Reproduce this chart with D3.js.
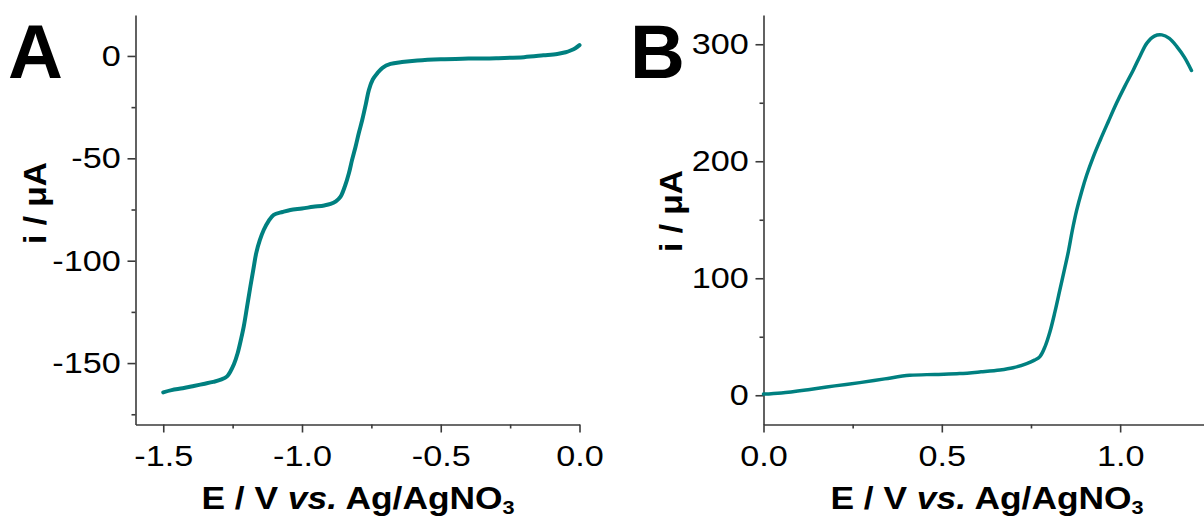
<!DOCTYPE html>
<html>
<head>
<meta charset="utf-8">
<script src="https://cdn.jsdelivr.net/npm/d3@7"></script>
<style>
  html, body { margin: 0; padding: 0; background: #fff; }
  svg { display: block; }
  text { font-family: "Liberation Sans", Arial, sans-serif; fill: #000; }
</style>
</head>
<body>
<svg id="chart" width="1204" height="517"></svg>
<script>
// ---------- Data ----------
// Panel A: potential (V) and current (µA)
const aPotential = [-1.50,-1.47,-1.43,-1.39,-1.355,-1.32,-1.29,-1.27,-1.258,-1.245,-1.232,-1.22,-1.21,-1.198,-1.186,-1.175,-1.165,-1.152,-1.138,-1.12,-1.102,-1.07,-1.042,-1.0,-0.96,-0.92,-0.897,-0.878,-0.861,-0.845,-0.831,-0.82,-0.807,-0.795,-0.783,-0.77,-0.759,-0.745,-0.729,-0.71,-0.681,-0.64,-0.584,-0.5,-0.4,-0.3,-0.2,-0.13,-0.08,-0.05,-0.03,-0.015,0.0];
const aCurrent   = [-164.3,-163.2,-162.3,-161.2,-160.2,-159.2,-158.0,-156.5,-154.1,-150.5,-145.2,-138.5,-132.2,-122.5,-112.6,-104,-96.3,-90,-85,-80.5,-77.6,-76.2,-75.2,-74.5,-73.7,-73.0,-72.3,-71,-68.7,-63.5,-57.3,-51,-44.3,-37.5,-31.3,-23.5,-16.6,-11.5,-8.5,-5.8,-3.9,-3.0,-2.2,-1.6,-1.3,-1.1,-0.6,0.3,1.0,1.8,2.8,3.8,5.3];

// Panel B
const bPotential = [0.0,0.05,0.13,0.2,0.27,0.34,0.41,0.48,0.55,0.61,0.663,0.70,0.738,0.76,0.775,0.79,0.803,0.817,0.831,0.845,0.855,0.866,0.878,0.892,0.906,0.925,0.944,0.967,0.99,1.013,1.037,1.056,1.075,1.096,1.117,1.138,1.159,1.18,1.2];
const bCurrent   = [1,2,5,8,10.8,14,17,17.8,18.5,20,21.6,23.5,27,30,33,42,54,71,90,109,123,141,158,174,188,204,218,234,249.7,264,278,290,301,307,308,305,298,289,277.6];

// Ticks
const aXTicks = [-1.5,-1.0,-0.5,0.0];
const aXMinor = [-1.25,-0.75,-0.25];
const aYTicks = [0,-50,-100,-150];
const aYMinor = [-25,-75,-125,-175];
const bXTicks = [0.0,0.5,1.0];
const bXMinor = [0.25,0.75,1.25];
const bYTicks = [0,100,200,300];
const bYMinor = [50,150,250];

const panelLabels = ["A","B"];
const yTitle = "i / μA";

// ---------- Drawing ----------
const svg = d3.select("#chart");
const lineColor = "#008080";
const axisColor = "#3a3a3a";
const stretch = 1.14;

function fmtTick(d, digits) {
  return d.toFixed(digits).replace("\u2212", "-");
}

function drawPanel(opt) {
  const x = d3.scaleLinear().domain(opt.xDomain).range(opt.xRange);
  const y = d3.scaleLinear().domain(opt.yDomain).range(opt.yRange);
  const g = svg.append("g");
  const x0 = opt.xRange[0], yB = opt.yRange[0];

  // y axis
  g.append("g").attr("transform", `translate(${x0},0)`)
    .call(d3.axisLeft(y).tickValues(opt.yTicks).tickSize(8).tickSizeOuter(0).tickPadding(5)
      .tickFormat(d => String(d)));
  g.append("g").attr("transform", `translate(${x0},0)`)
    .call(d3.axisLeft(y).tickValues(opt.yMinor).tickSize(4).tickSizeOuter(0).tickFormat(""))
    .select(".domain").remove();

  // x axis
  g.append("g").attr("transform", `translate(0,${yB})`)
    .call(d3.axisBottom(x).tickValues(opt.xTicks).tickSize(8).tickSizeOuter(0).tickPadding(12)
      .tickFormat(d => fmtTick(d, 1)));
  g.append("g").attr("transform", `translate(0,${yB})`)
    .call(d3.axisBottom(x).tickValues(opt.xMinor).tickSize(4).tickSizeOuter(0).tickFormat(""))
    .select(".domain").remove();

  g.selectAll(".domain, .tick line").attr("stroke", axisColor).attr("stroke-width", 1.6);
  g.selectAll(".tick text").attr("font-size", 30)
    .attr("font-family", "Liberation Sans, Arial, sans-serif").attr("fill", "#000")
    .attr("transform", `scale(${stretch},1)`);

  // curve
  const data = opt.xs.map((v, i) => [v, opt.ys[i]]);
  g.append("path").datum(data)
    .attr("fill", "none").attr("stroke", lineColor).attr("stroke-width", opt.lw)
    .attr("stroke-linejoin", "round").attr("stroke-linecap", "round")
    .attr("d", d3.line().x(d => x(d[0])).y(d => y(d[1])).curve(d3.curveCatmullRom.alpha(0.5)));

  // panel label
  svg.append("text").attr("x", opt.labelX).attr("y", 78)
    .attr("font-size", 76).attr("font-weight", "bold").text(opt.label);

  // y title
  svg.append("text")
    .attr("transform", `translate(${opt.yTitleX},${opt.yTitleY}) rotate(-90) scale(1.08,1)`)
    .attr("text-anchor", "middle").attr("font-size", 31).attr("font-weight", "bold")
    .text(yTitle);

  // x title
  const t = svg.append("text")
    .attr("transform", `translate(${opt.xTitleX},509) scale(${stretch},1)`)
    .attr("text-anchor", "middle").attr("font-size", 31).attr("font-weight", "bold");
  t.append("tspan").text("E / V ");
  t.append("tspan").attr("font-style", "italic").text("vs.");
  t.append("tspan").text(" Ag/AgNO");
  t.append("tspan").attr("font-size", 19).attr("dy", 5).text("3");
}

drawPanel({
  xDomain: [-1.6, 0], xRange: [135.5, 579.5],
  yDomain: [-180, 20], yRange: [424.5, 15],
  xTicks: aXTicks, xMinor: aXMinor, yTicks: aYTicks, yMinor: aYMinor,
  xs: aPotential, ys: aCurrent, lw: 4,
  label: panelLabels[0], labelX: 8,
  yTitleX: 46, yTitleY: 203, xTitleX: 358
});

drawPanel({
  xDomain: [0, 1.25], xRange: [763.5, 1209.3],
  yDomain: [-25, 325], yRange: [424.5, 15],
  xTicks: bXTicks, xMinor: bXMinor, yTicks: bYTicks, yMinor: bYMinor,
  xs: bPotential, ys: bCurrent, lw: 3.5,
  label: panelLabels[1], labelX: 630,
  yTitleX: 682, yTitleY: 211, xTitleX: 987
});
</script>
</body>
</html>
